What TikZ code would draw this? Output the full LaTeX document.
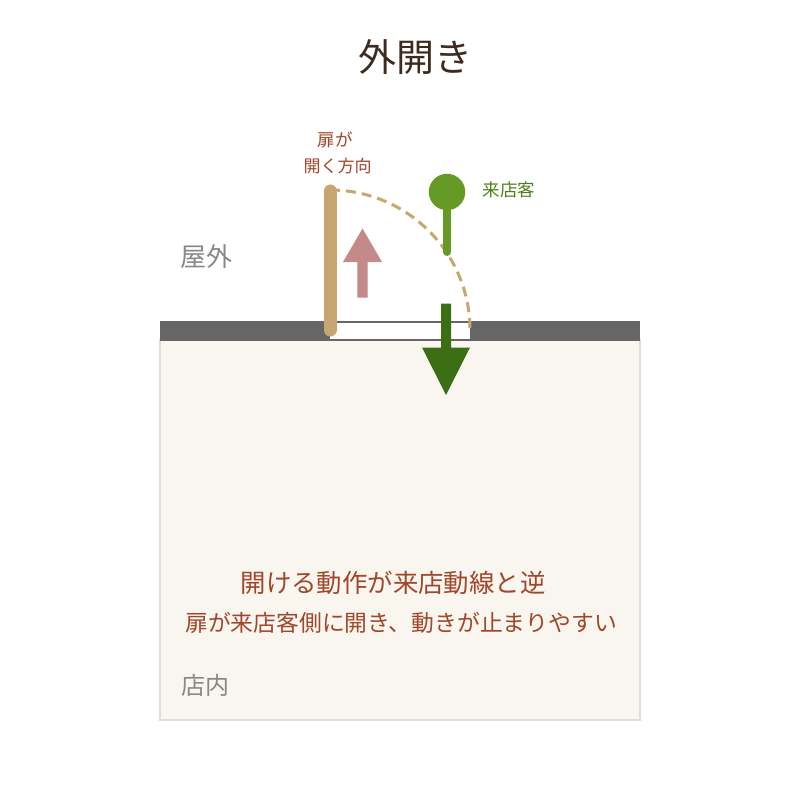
\documentclass[tikz,border=0pt]{standalone}
\usepackage{fontspec}
\setmainfont{Noto Sans CJK JP}
\usetikzlibrary{calc}
\definecolor{titlec}{HTML}{3D2B1F}
\definecolor{rust}{HTML}{A0462A}
\definecolor{graytxt}{HTML}{888888}
\definecolor{wallc}{HTML}{666666}
\definecolor{roomfill}{HTML}{F9F5EF}
\definecolor{roomline}{HTML}{DDDDDD}
\definecolor{doorc}{HTML}{C8A670}
\definecolor{pinkc}{HTML}{C48A8A}
\definecolor{personc}{HTML}{659A25}
\definecolor{persontxt}{HTML}{4F7F1C}
\definecolor{darkgreen}{HTML}{3C6E14}
\tikzset{
  lbl/.style={inner sep=0pt, anchor=center},
}
\begin{document}
\begin{tikzpicture}[x=1pt,y=-1pt]
\useasboundingbox (0,0) rectangle (800,802);
\fill[white] (0,0) rectangle (800,802);
% title
\node[lbl, text=titlec, font=\fontsize{38}{44}\selectfont] (title) at (415,57) {外開き};
% room
\draw[roomline, fill=roomfill, line width=2pt] (160,340) rectangle (640,720);
% wall
\fill[wallc] (160,321) rectangle (330,341);
\fill[wallc] (470,321) rectangle (640,341);
\fill[white] (330,321) rectangle (470,341);
\draw[wallc, line width=1.8pt] (330,322) -- (470,322);
\draw[wallc, line width=1.8pt] (330,340) -- (470,340);
% door swing
\draw[doorc, line width=3pt, dash pattern=on 10pt off 6pt] (330,190) arc[start angle=-90, end angle=0, radius=140];
% door
\draw[doorc, line width=13pt, line cap=round] (330,191) -- (330,330);
% pink arrow
\fill[pinkc] (357.3,297.5) -- (357.3,262) -- (343,262) -- (362.5,228.5) -- (382,262) -- (367.7,262) -- (367.7,297.5) -- cycle;
% person
\draw[personc, line width=8pt, line cap=round] (447,200) -- (447,252);
\fill[personc] (447,192) circle[radius=18.2];
% green arrow
\fill[darkgreen] (441,303.5) -- (441,347.5) -- (422,347.5) -- (446,395) -- (470,347.5) -- (451,347.5) -- (451,303.5) -- cycle;
% labels
\node[lbl, text=rust, font=\fontsize{17.5}{20}\selectfont] (l1) at (335,140) {扉が};
\node[lbl, text=rust, font=\fontsize{17}{20}\selectfont] (l2) at (337.5,166) {開く方向};
\node[lbl, text=persontxt, font=\fontsize{17.5}{20}\selectfont] (cust) at (509,190) {来店客};
\node[lbl, text=graytxt, font=\fontsize{26}{30}\selectfont] (out) at (206,257) {屋外};
\node[lbl, text=graytxt, font=\fontsize{24}{28}\selectfont] (in) at (205,685) {店内};
\node[lbl, text=rust, font=\fontsize{25.4}{30}\selectfont] (m1) at (393,583) {開ける動作が来店動線と逆};
\node[lbl, text=rust, font=\fontsize{22.8}{28}\selectfont] (m2) at (401,623) {扉が来店客側に開き、動きが止まりやすい};
\end{tikzpicture}
\end{document}
